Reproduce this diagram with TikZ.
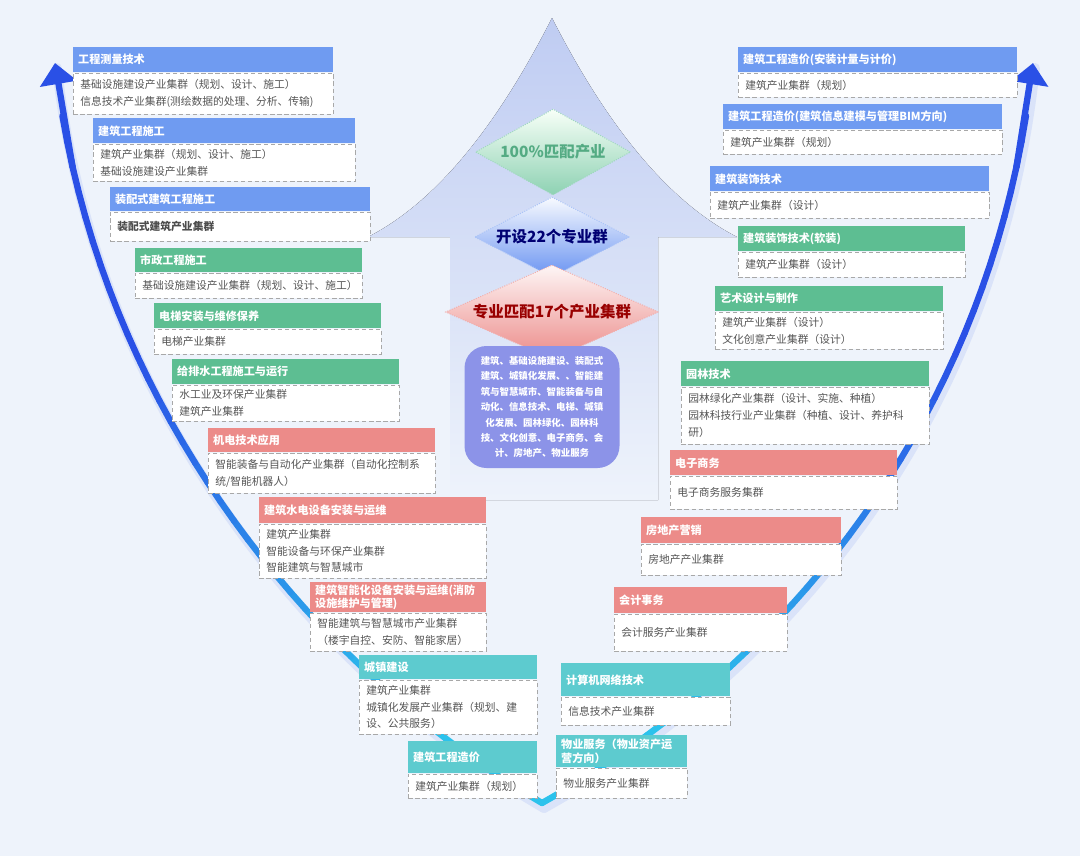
\documentclass[tikz,border=0pt]{standalone}
\usepackage{fontspec}
\setmainfont{Noto Sans CJK SC}
\usepackage{tikz}
\usetikzlibrary{arrows.meta,shapes.geometric,positioning}
\definecolor{bgc}{HTML}{EEF3FB}
\definecolor{arrc}{HTML}{BFCCF2}
\definecolor{hblue}{HTML}{6F9BF1}
\definecolor{hgreen}{HTML}{5DBE92}
\definecolor{hpink}{HTML}{EC8B89}
\definecolor{hteal}{HTML}{5DCBCF}
\definecolor{txtc}{HTML}{555555}
\definecolor{dashc}{HTML}{A8A8A8}
\definecolor{ovalc}{HTML}{8C93E8}
\definecolor{vblue}{HTML}{2A50E6}
\definecolor{vcyan}{HTML}{2CC2EC}
\newcommand\upx{0.025cm}
\newcommand\hdfont{\fontsize{7.9}{9.5}\selectfont\bfseries}
\newcommand\bdfont{\fontsize{7.65}{12}\selectfont}

\tikzset{
  hd/.style={anchor=north west,fill=#1,text=white,font=\hdfont,inner xsep=3.5pt,inner ysep=0pt,align=left},
  bd/.style={anchor=north west,fill=white,draw=dashc,densely dashed,line width=0.6pt,text=txtc,font=\bdfont,inner xsep=5pt,inner ysep=0pt,align=left},
  wd/.style={minimum width=#1*\upx,text width=#1*\upx-7pt},
  bw/.style={minimum width=#1*\upx,text width=#1*\upx-10pt},
  ht/.style={minimum height=#1*\upx},
  dia/.style={diamond,aspect=2,inner sep=0pt,draw=#1,densely dotted,line width=0.7pt,font=\fontsize{11}{13}\selectfont\bfseries},
  vline/.style={line width=4.5pt,line cap=round},
}

\begin{document}
\begin{tikzpicture}[x=0.025cm,y=-0.025cm]
\fill[bgc] (0,0) rectangle (1080,856);
\useasboundingbox (0,0) rectangle (1080,856);

% big arrow behind
\fill[top color=arrc,bottom color=bgc] (552,18) .. controls (500,120) and (440,200) .. (368,237) -- (450,237) -- (450,500) -- (658,500) -- (658,237) -- (737,237) .. controls (665,200) and (604,120) .. (552,18) -- cycle;

\node[dia=hgreen!60,top color=green!3!white,bottom color=hgreen!70!white,minimum width=155*\upx,minimum height=86*\upx,text=hgreen!90!black] (d1) at (553,152) {100\%匹配产业};
\node[dia=hblue!60,top color=hblue!5!white,bottom color=hblue!95!blue,minimum width=155*\upx,minimum height=80*\upx,text=blue!45!black] (d2) at (552,237) {开设22个专业群};
\node[dia=hpink!70,top color=hpink!8!white,bottom color=hpink,minimum width=213*\upx,minimum height=63*\upx,text=red!60!black] (d3) at (552,312) {专业匹配17个产业集群};

\node[fill=ovalc,rounded corners=22*\upx,minimum width=155*\upx,minimum height=122*\upx,text=white,align=center,font=\fontsize{6.7}{11}\selectfont\bfseries] (core) at (542,407) {建筑、基础设施建设、装配式\\建筑、城镇化发展、、智能建\\筑与智慧城市、智能装备与自\\动化、信息技术、电梯、城镇\\化发展、园林绿化、园林科\\技、文化创意、电子商务、会\\计、房地产、物业服务};

% V curve
\coordinate (vb) at (542,803);
\coordinate (vlt) at (55,63);
\coordinate (vrt) at (1033,63);
\draw[line width=7pt,vblue!10!bgc,line cap=round] ([shift={(2,5)}]vb) .. controls (332,685) and (97,425) .. ([shift={(2,5)}]vlt);
\draw[line width=7pt,vblue!10!bgc,line cap=round] ([shift={(2,5)}]vb) .. controls (782,675) and (997,425) .. ([shift={(2,5)}]vrt);
\foreach \i [evaluate=\i as \t using \i/40] in {0,...,40}{
  \path (vb) .. controls (330,680) and (95,420) .. (vlt) coordinate[pos=\t] (l\i);
  \path (vb) .. controls (780,670) and (995,420) .. (vrt) coordinate[pos=\t] (r\i);
}
\foreach \i [evaluate=\i as \j using int(\i+1)] in {0,...,37}{
  \pgfmathtruncatemacro\c{min(100,max(0,(\i-8)*5))}
  \draw[vline,vblue!\c!vcyan] (l\i) -- (l\j);
  \draw[vline,vblue!\c!vcyan] (r\i) -- (r\j);
}
\draw[vline,line cap=butt,vblue,-{Triangle[width=26pt,length=15pt]}] (l36) -- (l40);
\draw[vline,line cap=butt,vblue,-{Triangle[width=26pt,length=15pt]}] (r36) -- (r40);

% left boxes
\node[hd=hblue,wd=260,ht=25] (a1) at (73,47) {工程测量技术};
\node[bd,bw=260,ht=41] (a1b) at (a1.south west) {基础设施建设产业集群（规划、设计、施工）\\信息技术产业集群(测绘数据的处理、分析、传输)};
\node[hd=hblue,wd=262,ht=25] (a2) at (93,118) {建筑工程施工};
\node[bd,bw=262,ht=37] (a2b) at (a2.south west) {建筑产业集群（规划、设计、施工）\\基础设施建设产业集群};
\node[hd=hblue,wd=260,ht=24] (a3) at (110,187) {装配式建筑工程施工};
\node[bd,bw=260,ht=29] (a3b) at (a3.south west) {\textbf{\color{black!70}装配式建筑产业集群}};
\node[hd=hgreen,wd=227,ht=24] (a4) at (135,248) {市政工程施工};
\node[bd,bw=227,ht=25] (a4b) at (a4.south west) {基础设施建设产业集群（规划、设计、施工）};
\node[hd=hgreen,wd=227,ht=25] (a5) at (154,303) {电梯安装与维修保养};
\node[bd,bw=227,ht=25] (a5b) at (a5.south west) {电梯产业集群};
\node[hd=hgreen,wd=227,ht=25] (a6) at (172,359) {给排水工程施工与运行};
\node[bd,bw=227,ht=36] (a6b) at (a6.south west) {水工业及环保产业集群\\建筑产业集群};
\node[hd=hpink,wd=227,ht=24] (a7) at (208,428) {机电技术应用};
\node[bd,bw=227,ht=40] (a7b) at (a7.south west) {智能装备与自动化产业集群（自动化控制系\\统/智能机器人）};
\node[hd=hpink,wd=227,ht=26] (a8) at (259,497) {建筑水电设备安装与运维};
\node[bd,bw=227,ht=54] (a8b) at (a8.south west) {建筑产业集群\\智能设备与环保产业集群\\智能建筑与智慧城市};
\node[hd=hpink,wd=176,ht=30] (a9) at (310,582) {建筑智能化设备安装与运维(消防\\设施维护与管理)};
\node[bd,bw=176,ht=38] (a9b) at (a9.south west) {智能建筑与智慧城市产业集群\\（楼宇自控、安防、智能家居）};
\node[hd=hteal,wd=178,ht=24] (a10) at (359,655) {城镇建设};
\node[bd,bw=178,ht=54] (a10b) at (a10.south west) {建筑产业集群\\城镇化发展产业集群（规划、建\\设、公共服务）};
\node[hd=hteal,wd=129,ht=32] (a11) at (408,741) {建筑工程造价};
\node[bd,bw=129,ht=24] (a11b) at (a11.south west) {建筑产业集群（规划）};

% right boxes
\node[hd=hblue,wd=279,ht=25] (b1) at (738,47) {建筑工程造价(安装计量与计价)};
\node[bd,bw=279,ht=24] (b1b) at (b1.south west) {建筑产业集群（规划）};
\node[hd=hblue,wd=279,ht=25] (b2) at (723,104) {建筑工程造价(建筑信息建模与管理BIM方向)};
\node[bd,bw=279,ht=24] (b2b) at (b2.south west) {建筑产业集群（规划）};
\node[hd=hblue,wd=279,ht=25] (b3) at (710,166) {建筑装饰技术};
\node[bd,bw=279,ht=26] (b3b) at (b3.south west) {建筑产业集群（设计）};
\node[hd=hgreen,wd=227,ht=25] (b4) at (738,226) {建筑装饰技术(软装)};
\node[bd,bw=227,ht=25] (b4b) at (b4.south west) {建筑产业集群（设计）};
\node[hd=hgreen,wd=228,ht=25] (b5) at (715,286) {艺术设计与制作};
\node[bd,bw=228,ht=37] (b5b) at (b5.south west) {建筑产业集群（设计）\\文化创意产业集群（设计）};
\node[hd=hgreen,wd=248,ht=25] (b6) at (681,361) {园林技术};
\node[bd,bw=248,ht=57] (b6b) at (b6.south west) {园林绿化产业集群（设计、实施、种植）\\园林科技行业产业集群（种植、设计、养护科\\研）};
\node[hd=hpink,wd=227,ht=25] (b7) at (670,450) {电子商务};
\node[bd,bw=227,ht=33] (b7b) at (b7.south west) {电子商务服务集群};
\node[hd=hpink,wd=200,ht=26] (b8) at (641,517) {房地产营销};
\node[bd,bw=200,ht=31] (b8b) at (b8.south west) {房地产产业集群};
\node[hd=hpink,wd=173,ht=26] (b9) at (614,587) {会计事务};
\node[bd,bw=173,ht=37] (b9b) at (b9.south west) {会计服务产业集群};
\node[hd=hteal,wd=169,ht=33] (b10) at (561,663) {计算机网络技术};
\node[bd,bw=169,ht=28] (b10b) at (b10.south west) {信息技术产业集群};
\node[hd=hteal,wd=131,ht=32] (b11) at (556,735) {物业服务（物业资产运\\营方向）};
\node[bd,bw=131,ht=30] (b11b) at (b11.south west) {物业服务产业集群};
\end{tikzpicture}
\end{document}
